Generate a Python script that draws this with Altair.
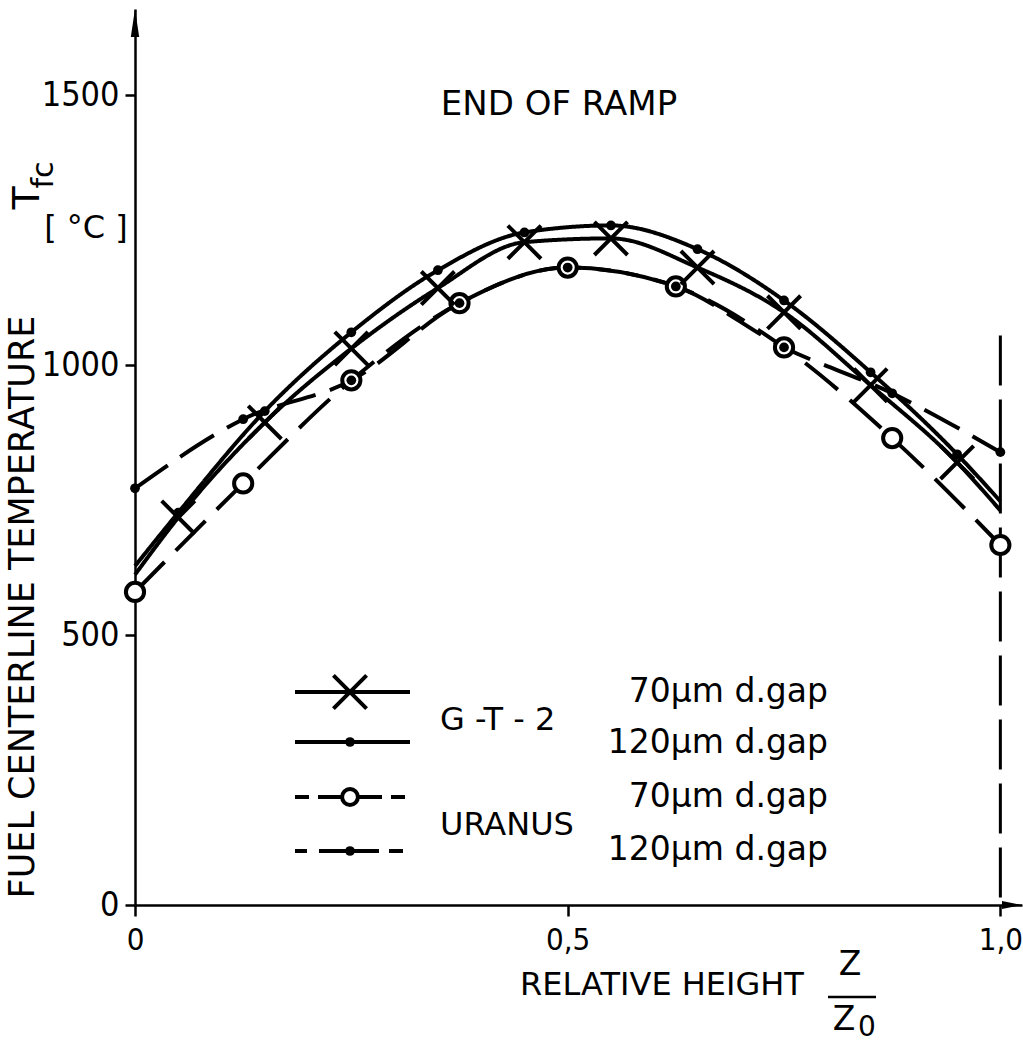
import altair as alt
import pandas as pd

# Fuel centerline temperature at end of ramp versus relative height z/z0
# G-T-2 code results
gt_z = [0.0, 0.05, 0.15, 0.25, 0.35, 0.45, 0.55, 0.65, 0.75, 0.85, 0.95, 1.0]
gt_70 = [612, 718, 894, 1031, 1143, 1228, 1235, 1181, 1098, 963, 820, 731]
gt_120 = [628, 727, 915, 1061, 1176, 1246, 1259, 1215, 1120, 987, 835, 748]

# URANUS code results
ur_z = [0.0, 0.125, 0.25, 0.375, 0.5, 0.625, 0.75, 0.875, 1.0]
ur_70 = [580, 781, 972, 1115, 1181, 1146, 1033, 865, 667]
ur_120 = [772, 900, 972, 1115, 1181, 1146, 1033, 948, 839]

series = ["G-T-2 70", "G-T-2 120", "URANUS 70", "URANUS 120"]
y_ticks = [0, 500, 1000, 1500]
x_ticks = [0.0, 0.5, 1.0]
ramp_top = 1055  # upper end of the dashed line at z/z0 = 1

FONT = "DejaVu Sans"
NARROW = "DejaVu Sans Condensed, Liberation Sans Narrow, Roboto Condensed, DejaVu Sans"

rows = []
for name, zs, ts in [("G-T-2 70", gt_z, gt_70), ("G-T-2 120", gt_z, gt_120)]:
    for i, (z, t) in enumerate(zip(zs, ts)):
        rows.append({"z": z, "t": t, "series": name, "marked": 0 < i < len(zs) - 1})
for name, zs, ts in [("URANUS 70", ur_z, ur_70), ("URANUS 120", ur_z, ur_120)]:
    for z, t in zip(zs, ts):
        rows.append({"z": z, "t": t, "series": name, "marked": True})
df = pd.DataFrame(rows)

X = alt.X(
    "z:Q",
    scale=alt.Scale(domain=[0, 1.025], nice=False, zero=False),
    axis=alt.Axis(
        values=x_ticks,
        title=None,
        grid=False,
        labelExpr="datum.value == 0 ? '0' : replace(format(datum.value, '.1f'), '.', ',')",
        labelFontSize=31,
        labelPadding=9,
        labelFlush=False,
        tickSize=11,
    ),
)
Y = alt.Y(
    "t:Q",
    scale=alt.Scale(domain=[0, 1660], nice=False),
    axis=alt.Axis(
        values=y_ticks,
        format="d",
        title=None,
        grid=False,
        labelFontSize=34,
        labelPadding=6,
        tickSize=10,
    ),
)

base = alt.Chart(df)

lines = base.mark_line(interpolate="monotone", color="black", strokeWidth=4).encode(
    x=X,
    y=Y,
    strokeDash=alt.StrokeDash(
        "series:N",
        scale=alt.Scale(domain=series, range=[[1, 0], [1, 0], [42, 16], [40, 15]]),
        legend=None,
    ),
)

cross_shape = "M-1,-1L1,1M1,-1L-1,1"

x_marks = base.transform_filter(
    (alt.datum.series == "G-T-2 70") & alt.datum.marked
).mark_point(shape=cross_shape, size=1100, strokeWidth=4, color="black", opacity=1).encode(x=X, y=Y)

open_marks = base.transform_filter(alt.datum.series == "URANUS 70").mark_point(
    shape="circle", size=330, filled=True, fill="white", stroke="black", strokeWidth=4, opacity=1
).encode(x=X, y=Y)

dot_marks = base.transform_filter(
    ((alt.datum.series == "G-T-2 120") | (alt.datum.series == "URANUS 120")) & alt.datum.marked
).mark_point(shape="circle", size=95, filled=True, color="black", opacity=1).encode(x=X, y=Y)

edge = alt.Chart(pd.DataFrame({"z": [1.0], "t": [ramp_top], "t0": [0]}))
edge_rule = edge.mark_rule(color="black", strokeWidth=3, strokeDash=[50, 14]).encode(
    x=X, y=Y, y2="t0:Q"
)

# arrow heads at the ends of both axes
arrow_up = alt.Chart(pd.DataFrame({"z": [0.0], "t": [1660]})).mark_point(
    shape="M0,0L-0.15,1L0.15,1Z", size=3136, filled=True, color="black", opacity=1
).encode(x=X, y=Y)
arrow_right = alt.Chart(pd.DataFrame({"z": [1.025], "t": [0]})).mark_point(
    shape="M0,0L-1,-0.2L-1,0.2Z", size=1600, filled=True, color="black", opacity=1
).encode(x=X, y=Y)

one = pd.DataFrame({"a": [0]})


def label(text, x, y, size, angle=0, align="center", baseline="middle", font=FONT):
    return alt.Chart(one).mark_text(
        text=text,
        font=font,
        fontSize=size,
        angle=angle,
        align=align,
        baseline=baseline,
        color="black",
    ).encode(x=alt.value(x), y=alt.value(y))


texts = [
    label("END OF RAMP", 424, 96, 34),
    label("FUEL CENTERLINE TEMPERATURE", -112, 598, 35, angle=270),
    label("T", -107, 189, 38, angle=270),
    label("fc", -91, 166, 30, angle=270),
    label("[ °C ]", -49, 219, 32),
    label("RELATIVE  HEIGHT", 527, 976, 32),
    label("Z", 715, 956, 33),
    label("Z", 709, 1011, 33),
    label("0", 732, 1019, 28),
    label("G -T - 2", 305, 711, 32, align="left"),
    label("URANUS", 305, 816, 32, align="left"),
    label("70µm d.gap", 693, 683, 33, align="right"),
    label("120µm d.gap", 693, 734, 33, align="right"),
    label("70µm d.gap", 693, 788, 33, align="right"),
    label("120µm d.gap", 693, 841, 33, align="right"),
]

frac_bar = alt.Chart(one).mark_rule(color="black", strokeWidth=2.5).encode(
    x=alt.value(693), x2=alt.value(741), y=alt.value(988)
)

# legend samples
leg_rows = [683, 733, 788, 842]
leg = []
for yy, dash in zip(leg_rows, [[1, 0], [1, 0], [14, 9, 64, 9, 14, 100], [12, 12, 60, 10, 14, 100]]):
    leg.append(
        alt.Chart(one).mark_rule(color="black", strokeWidth=4, strokeDash=dash).encode(
            x=alt.value(160), x2=alt.value(275), y=alt.value(yy)
        )
    )
leg.append(
    alt.Chart(one).mark_point(shape=cross_shape, size=1100, strokeWidth=4, color="black", opacity=1).encode(
        x=alt.value(215), y=alt.value(leg_rows[0])
    )
)
leg.append(
    alt.Chart(one).mark_point(shape="circle", size=95, filled=True, color="black", opacity=1).encode(
        x=alt.value(215), y=alt.value(leg_rows[1])
    )
)
leg.append(
    alt.Chart(one).mark_point(
        shape="circle", size=250, filled=True, fill="white", stroke="black", strokeWidth=4, opacity=1
    ).encode(x=alt.value(215), y=alt.value(leg_rows[2]))
)
leg.append(
    alt.Chart(one).mark_point(shape="circle", size=95, filled=True, color="black", opacity=1).encode(
        x=alt.value(215), y=alt.value(leg_rows[3])
    )
)

chart = (
    alt.layer(
        lines, edge_rule, open_marks, x_marks, dot_marks, arrow_up, arrow_right,
        frac_bar, *leg, *texts
    )
    .properties(
        width=887,
        height=896,
        padding={"left": 135, "top": 9, "right": 1, "bottom": 139},
        autosize=alt.AutoSizeParams(type="none"),
        background="white",
    )
    .configure_view(stroke=None)
    .configure_axis(
        domainColor="black",
        domainWidth=2.5,
        tickColor="black",
        tickWidth=2.5,
        labelColor="black",
        labelFont=NARROW,
    )
)

chart.save("out.html", embed_options={"renderer": "svg", "actions": False})
